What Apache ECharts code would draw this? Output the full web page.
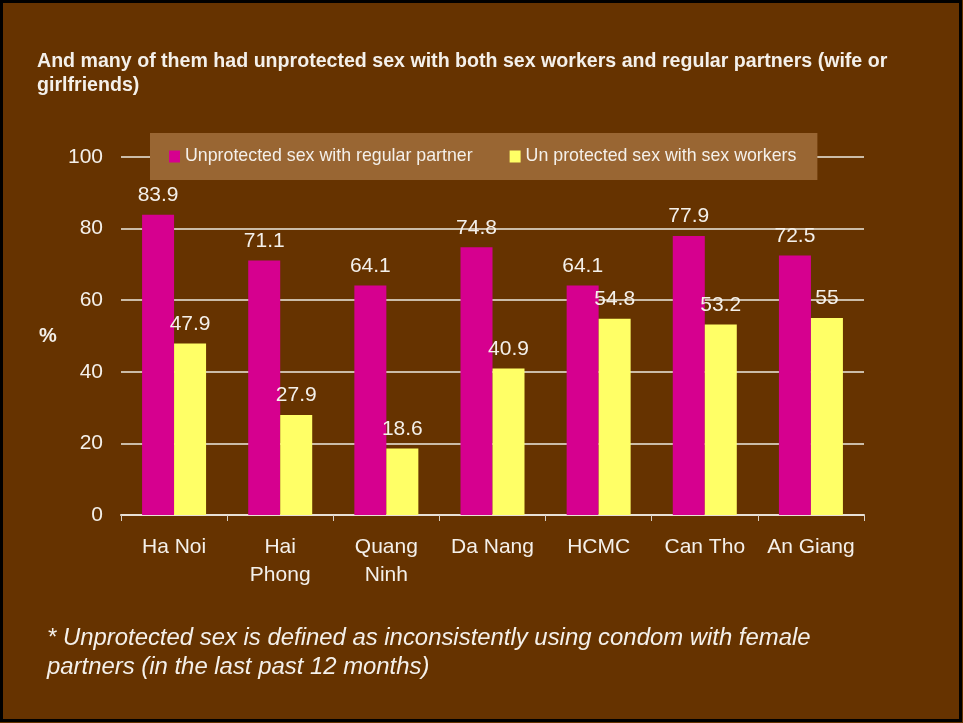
<!DOCTYPE html>
<html>
<head>
<meta charset="utf-8">
<title>Unprotected sex by city</title>
<script src="https://cdn.jsdelivr.net/npm/echarts@6/dist/echarts.min.js"></script>
<style>
  html, body { margin: 0; padding: 0; background: #663300; }
  #chart { width: 963px; height: 723px; }
</style>
</head>
<body>
<div id="chart"></div>
<script>
  // data
  var cities = ['Ha Noi', 'Hai\nPhong', 'Quang\nNinh', 'Da Nang', 'HCMC', 'Can Tho', 'An Giang'];
  var regularPartner = [83.9, 71.1, 64.1, 74.8, 64.1, 77.9, 72.5];
  var sexWorkers = [47.9, 27.9, 18.6, 40.9, 54.8, 53.2, 55];
  var seriesNames = ['Unprotected sex with regular partner', 'Un protected sex with sex workers'];

  var font = '"Liberation Sans", Arial, sans-serif';
  var txt = '#f4f0ea';

  var chart = echarts.init(document.getElementById('chart'));
  var labelStyle = {
    show: true,
    position: 'top',
    distance: 9,
    color: txt,
    fontSize: 21,
    fontFamily: font
  };
  chart.setOption({
    backgroundColor: '#663300',
    animation: false,
    textStyle: { fontFamily: font },
    title: [{
      text: 'And many of them had unprotected sex with both sex workers and regular partners (wife or\ngirlfriends)',
      left: 37,
      top: 50,
      padding: 0,
      textStyle: { color: txt, fontSize: 19.6, fontWeight: 'bold', lineHeight: 24, fontFamily: font }
    }, {
      text: '* Unprotected sex is defined as inconsistently using condom with female\npartners (in the last past 12 months)',
      left: 47,
      top: 624,
      padding: 0,
      textStyle: { color: txt, fontSize: 23.9, fontStyle: 'italic', fontWeight: 'normal', lineHeight: 29, fontFamily: font }
    }],
    graphic: [{
      type: 'rect',
      shape: { x: 1.5, y: 1.5, width: 959, height: 719 },
      style: { fill: null, stroke: '#000', lineWidth: 3 },
      silent: true
    }, {
      type: 'text',
      left: 39,
      top: 326,
      style: { text: '%', fill: txt, fontSize: 20, fontWeight: 'bold', fontFamily: font }
    }],
    legend: {
      left: 150,
      top: 133,
      backgroundColor: '#996633',
      padding: [14, 21, 14, 19],
      itemWidth: 11,
      itemHeight: 12,
      itemGap: 37,
      icon: 'rect',
      textStyle: { color: txt, fontSize: 17.8, lineHeight: 19, fontFamily: font }
    },
    grid: { left: 121, right: 99, top: 157, bottom: 208 },
    xAxis: {
      type: 'category',
      data: cities,
      axisLine: { lineStyle: { color: '#e8e0d6', width: 2 } },
      axisTick: { show: true, interval: 0, length: 6, lineStyle: { color: '#d8d0c6' } },
      axisLabel: { interval: 0, color: txt, fontSize: 21, lineHeight: 28, margin: 18, fontFamily: font }
    },
    yAxis: {
      type: 'value',
      min: 0,
      max: 100,
      interval: 20,
      axisLine: { show: false },
      axisTick: { show: false },
      splitLine: { lineStyle: { color: '#cbbca8', width: 2 } },
      axisLabel: { color: txt, fontSize: 21, margin: 18, fontFamily: font }
    },
    series: [{
      name: seriesNames[0],
      type: 'bar',
      data: regularPartner,
      barWidth: 32,
      barGap: '0%',
      itemStyle: { color: '#d6008f' },
      label: labelStyle
    }, {
      name: seriesNames[1],
      type: 'bar',
      data: sexWorkers,
      barWidth: 32,
      itemStyle: { color: '#ffff66' },
      label: labelStyle
    }]
  });
</script>
</body>
</html>
